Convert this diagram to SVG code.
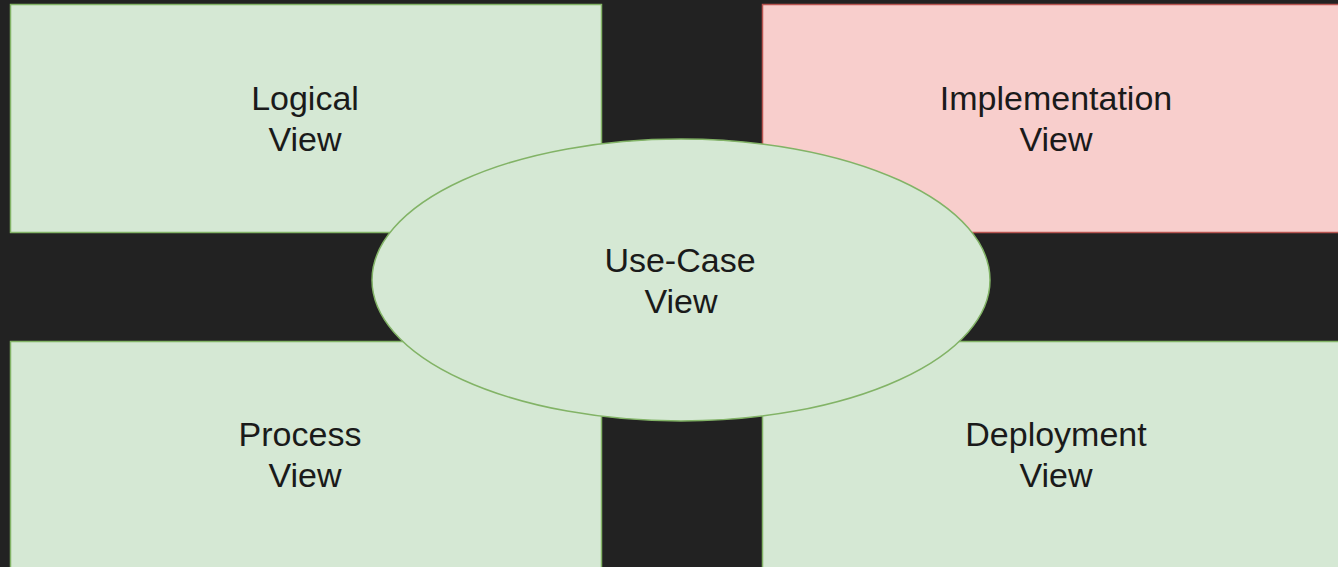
<svg xmlns="http://www.w3.org/2000/svg" width="1338" height="567" viewBox="0 0 1338 567">
<style>
.g{fill:#d5e8d4;stroke:#82b366;stroke-width:1.5}
.r{fill:#f8cecc;stroke:#b85450;stroke-width:1.5}
text{font-family:"Liberation Sans",Arial,sans-serif;font-size:34px;fill:#1a1a1a;text-anchor:middle}
</style>
<rect width="1338" height="567" fill="#222222"/>
<g id="logical"><rect class="g" x="10.5" y="4.5" width="591" height="228"/><text x="305" y="110">Logical</text><text x="305" y="151">View</text></g>
<g id="implementation"><rect class="r" x="762.5" y="4.5" width="590" height="228"/><text x="1056" y="110">Implementation</text><text x="1056" y="151">View</text></g>
<g id="process"><rect class="g" x="10.5" y="341.5" width="591" height="240"/><text x="300" y="446">Process</text><text x="305" y="487">View</text></g>
<g id="deployment"><rect class="g" x="762.5" y="341.5" width="590" height="240"/><text x="1056" y="446">Deployment</text><text x="1056" y="487">View</text></g>
<g id="usecase"><ellipse class="g" cx="681" cy="280" rx="309" ry="141"/><text x="680" y="272">Use-Case</text><text x="681" y="313">View</text></g>
<g id="connectors"/>
</svg>
